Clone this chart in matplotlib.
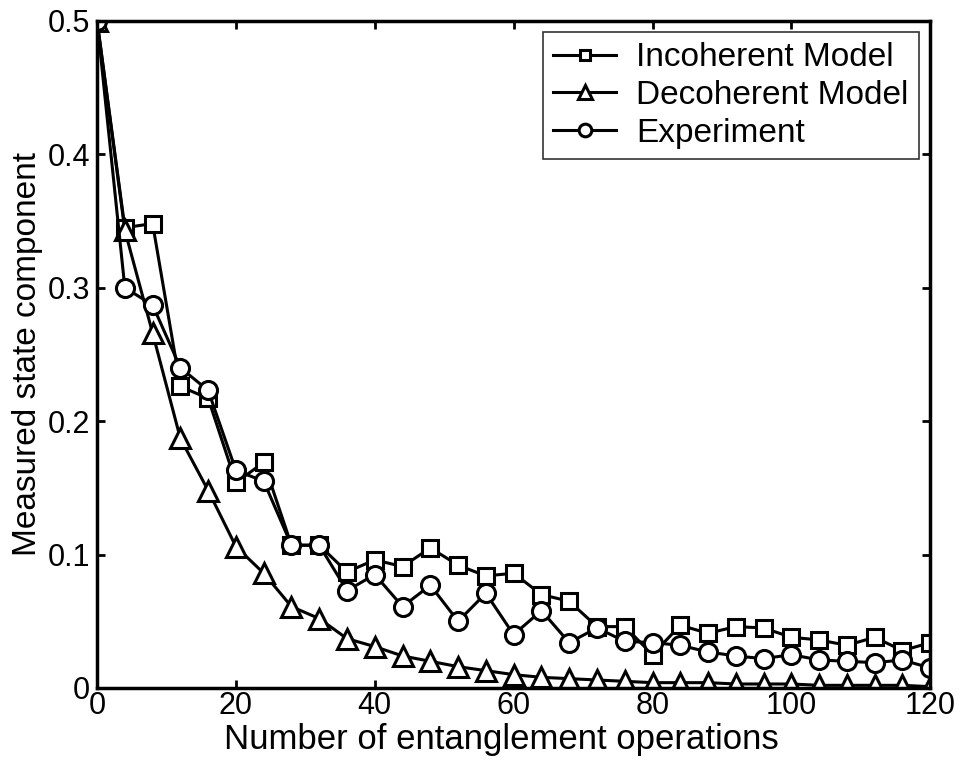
import matplotlib
matplotlib.use("Agg")
import matplotlib.pyplot as plt

# number of entanglement operations
ops = list(range(0, 121, 4))

incoherent = [0.500, 0.345, 0.348, 0.226, 0.217, 0.154, 0.169, 0.107, 0.107, 0.087, 0.096,
              0.091, 0.105, 0.092, 0.084, 0.086, 0.070, 0.065, 0.046, 0.046, 0.025,
              0.047, 0.041, 0.046, 0.045, 0.038, 0.036, 0.032, 0.038, 0.028, 0.034]
decoherent = [0.500, 0.343, 0.266, 0.187, 0.148, 0.106, 0.086, 0.061, 0.052, 0.037, 0.031,
              0.024, 0.020, 0.016, 0.013, 0.010, 0.008, 0.007, 0.006, 0.005, 0.004,
              0.004, 0.004, 0.003, 0.003, 0.003, 0.002, 0.002, 0.002, 0.002, 0.001]
experiment = [0.500, 0.300, 0.287, 0.240, 0.223, 0.163, 0.155, 0.107, 0.107, 0.073, 0.085,
              0.061, 0.077, 0.050, 0.071, 0.040, 0.058, 0.034, 0.045, 0.035, 0.034,
              0.032, 0.027, 0.024, 0.022, 0.025, 0.021, 0.020, 0.019, 0.021, 0.015]

plt.rcParams['font.family'] = ['Liberation Sans', 'DejaVu Sans']

fig = plt.figure(figsize=(9.61, 7.70), dpi=100)
ax = fig.add_axes([0.101, 0.1065, 0.867, 0.8665])

common = dict(color='black', lw=2.2, mfc='white', mec='black', mew=2.2)
ax.plot(ops, incoherent, marker='s', ms=11, label='Incoherent Model', **common)
ax.plot(ops, decoherent, marker='^', ms=14, label='Decoherent Model', **common)
ax.plot(ops, experiment, marker='o', ms=13, label='Experiment', **common)

ax.set_xlim(0, 120)
ax.set_ylim(0, 0.5)
ax.set_xticks([0, 20, 40, 60, 80, 100, 120])
ax.set_yticks([0, 0.1, 0.2, 0.3, 0.4, 0.5])
ax.set_yticklabels(['0', '0.1', '0.2', '0.3', '0.4', '0.5'])
ax.tick_params(direction='in', length=6, width=2, top=True, right=True, labelsize=22)
ax.tick_params(axis='y', pad=5)
ax.tick_params(axis='x', pad=2)
for sp in ax.spines.values():
    sp.set_linewidth(2.5)

ax.set_xlabel('Number of entanglement operations', fontsize=25)
ax.xaxis.set_label_coords(0.485, -0.091)
ax.xaxis.label.set_va('baseline')
ax.set_ylabel('Measured state component', fontsize=24)
ax.yaxis.set_label_coords(-0.073, 0.5)
ax.yaxis.label.set_va('baseline')

leg = ax.legend(loc='upper right', fontsize=24, frameon=True, fancybox=False,
                edgecolor='black', handlelength=1.9, handletextpad=0.6,
                borderpad=0.3, labelspacing=0.2, borderaxespad=0.35, markerscale=0.7)
leg.get_frame().set_linewidth(1.2)

fig.savefig('out.png', dpi=100)
